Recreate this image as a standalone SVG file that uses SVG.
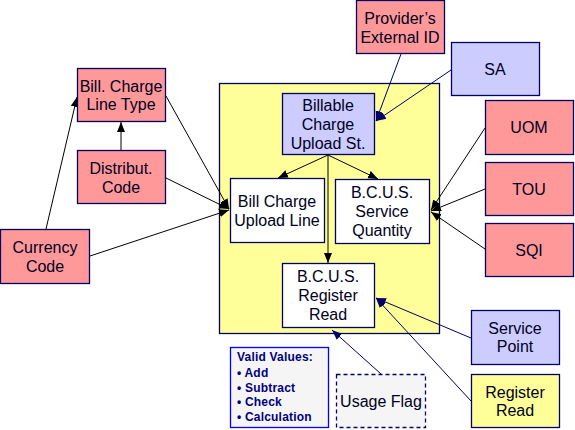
<svg xmlns="http://www.w3.org/2000/svg" width="575" height="430" viewBox="0 0 575 430">
<style>
.n{stroke:#000066;stroke-width:1.3}
.pink{fill:#ff9999}
.lav{fill:#ccccff}
.yel{fill:#ffff99}
.wht{fill:#ffffff}
.t{font-family:"Liberation Sans",Arial,sans-serif;font-size:16px;fill:#000022;text-anchor:middle}
.v{font-family:"Liberation Sans",Arial,sans-serif;font-size:12px;font-weight:bold;fill:#000080;letter-spacing:0.2px}
.c{fill:none;stroke:#000000;stroke-width:1}
.cn{fill:none;stroke:#000066;stroke-width:1}
</style>
<defs>
<marker id="ab" markerUnits="userSpaceOnUse" markerWidth="10" markerHeight="10" viewBox="0 0 10 10" refX="10" refY="5" orient="auto"><path d="M0,1 L10,5 L0,9 z" fill="#000000"/></marker>
<marker id="an" markerUnits="userSpaceOnUse" markerWidth="10" markerHeight="10" viewBox="0 0 10 10" refX="10" refY="5" orient="auto"><path d="M0,1 L10,5 L0,9 z" fill="#000066"/></marker>
</defs>
<rect id="container" x="219.5" y="83.5" width="220" height="250" class="n yel"/>
<g id="connectors">
<line x1="46" y1="229" x2="77" y2="97" class="c" marker-end="url(#ab)"/>
<line x1="166" y1="96" x2="229" y2="209" class="c" marker-end="url(#ab)"/>
<line x1="121" y1="150" x2="121" y2="122" class="c" marker-end="url(#ab)"/>
<line x1="166" y1="178" x2="229" y2="209" class="c" marker-end="url(#ab)"/>
<line x1="90" y1="256" x2="229" y2="210" class="c" marker-end="url(#ab)"/>
<line x1="328" y1="155" x2="278" y2="178" class="c" marker-end="url(#ab)"/>
<line x1="328" y1="155" x2="378" y2="179" class="c" marker-end="url(#ab)"/>
<line x1="328" y1="155" x2="328" y2="263" class="c" marker-end="url(#ab)"/>
<line x1="401" y1="54" x2="376" y2="121" class="cn" marker-end="url(#an)"/>
<line x1="451" y1="70" x2="376" y2="121" class="cn" marker-end="url(#an)"/>
<line x1="485" y1="128" x2="431" y2="210" class="c" marker-end="url(#ab)"/>
<line x1="485" y1="189" x2="431" y2="211" class="c" marker-end="url(#ab)"/>
<line x1="485" y1="249" x2="431" y2="212" class="c" marker-end="url(#ab)"/>
<line x1="471" y1="338" x2="376" y2="298" class="cn" marker-end="url(#an)"/>
<line x1="471" y1="401" x2="376" y2="298" class="cn" marker-end="url(#an)"/>
<line x1="381" y1="374" x2="332" y2="330" class="cn" marker-end="url(#an)"/>
</g>
<g id="bill-charge-line-type"><rect x="77.5" y="68.5" width="88" height="53" class="n pink"/><text class="t" x="121" y="92">Bill. Charge</text><text class="t" x="121" y="110">Line Type</text></g>
<g id="distribut-code"><rect x="77.5" y="150.5" width="88" height="53" class="n pink"/><text class="t" x="121" y="174">Distribut.</text><text class="t" x="121" y="193">Code</text></g>
<g id="currency-code"><rect x="0.5" y="229.5" width="89" height="54" class="n pink"/><text class="t" x="45" y="253">Currency</text><text class="t" x="45" y="272">Code</text></g>
<g id="providers-external-id"><rect x="356.5" y="0.5" width="88" height="53" class="n pink"/><text class="t" x="400" y="24">Provider’s</text><text class="t" x="400" y="43">External ID</text></g>
<g id="sa"><rect x="451.5" y="42.5" width="88" height="53" class="n lav"/><text class="t" x="495" y="75">SA</text></g>
<g id="billable-charge-upload-st"><rect x="282.5" y="93.5" width="92" height="61" class="n lav"/><text class="t" x="328" y="111">Billable</text><text class="t" x="328" y="130">Charge</text><text class="t" x="328" y="149">Upload St.</text></g>
<g id="uom"><rect x="485.5" y="100.5" width="88" height="54" class="n pink"/><text class="t" x="529" y="133">UOM</text></g>
<g id="tou"><rect x="485.5" y="162.5" width="88" height="53" class="n pink"/><text class="t" x="529" y="195">TOU</text></g>
<g id="sqi"><rect x="485.5" y="223.5" width="88" height="53" class="n pink"/><text class="t" x="529" y="256">SQI</text></g>
<g id="bill-charge-upload-line"><rect x="230.5" y="178.5" width="94" height="64" class="n wht"/><text class="t" x="277" y="207">Bill Charge</text><text class="t" x="277" y="226">Upload Line</text></g>
<g id="bcus-service-quantity"><rect x="335.5" y="179.5" width="94" height="64" class="n wht"/><text class="t" x="382" y="198">B.C.U.S.</text><text class="t" x="382" y="217">Service</text><text class="t" x="382" y="236">Quantity</text></g>
<g id="bcus-register-read"><rect x="282.5" y="263.5" width="92" height="64" class="n wht"/><text class="t" x="328" y="282">B.C.U.S.</text><text class="t" x="328" y="301">Register</text><text class="t" x="328" y="320">Read</text></g>
<g id="service-point"><rect x="471.5" y="310.5" width="88" height="54" class="n lav"/><text class="t" x="515" y="334">Service</text><text class="t" x="515" y="352">Point</text></g>
<g id="register-read"><rect x="471.5" y="374.5" width="88" height="53" class="n yel"/><text class="t" x="515" y="398">Register</text><text class="t" x="515" y="416">Read</text></g>
<g id="valid-values"><rect x="230.5" y="347.5" width="98" height="80" fill="#f5f5f5" stroke="#0000ff" stroke-width="1.3"/><text class="v" x="237" y="361">Valid Values:</text><text class="v" x="237" y="377">• Add</text><text class="v" x="237" y="392">• Subtract</text><text class="v" x="237" y="406">• Check</text><text class="v" x="237" y="421">• Calculation</text></g>
<g id="usage-flag"><rect x="336.5" y="374.5" width="89" height="53" fill="#f5f5f5" stroke="#000066" stroke-width="1.3" stroke-dasharray="4,3"/><text class="t" x="381" y="407">Usage Flag</text></g>
</svg>
